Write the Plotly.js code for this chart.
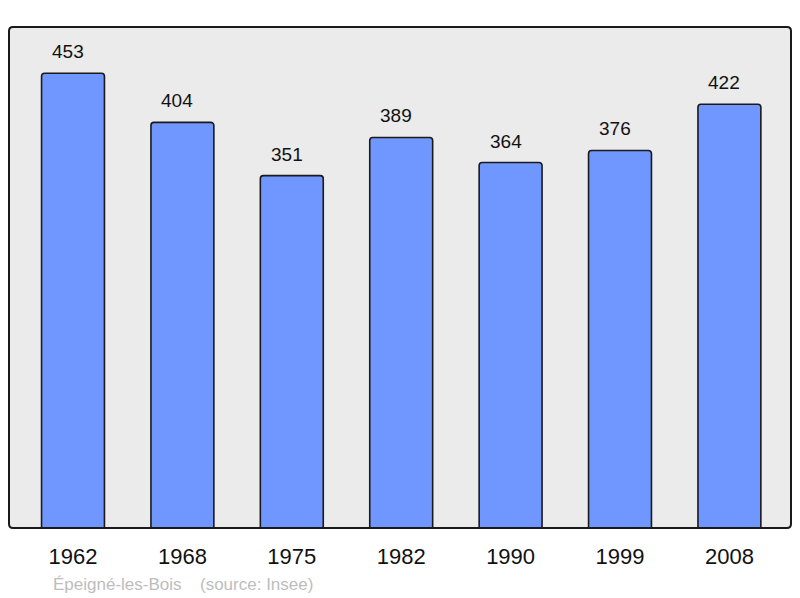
<!DOCTYPE html>
<html><head><meta charset="utf-8">
<script src="https://cdn.plot.ly/plotly-3.0.1.min.js"></script>
<style>html,body{margin:0;padding:0;background:#fff}#chart{width:800px;height:598px}</style>
</head><body><div id="chart"></div>
<script>
var years = ['1962','1968','1975','1982','1990','1999','2008'];
var population = [453, 404, 351, 389, 364, 376, 422];
var commune = 'Épeigné-les-Bois';
var source = '(source: Insee)';

var positions = years.map(function(_, i){ return i; });
var FONT = 'Liberation Sans, Arial, sans-serif';

var trace = {
  type: 'bar',
  x: positions,
  y: population,
  width: 0.575,
  marker: {color: '#7096ff', line: {color: '#1a1a1a', width: 1.6}, cornerradius: 3},
  hoverinfo: 'none'
};

var annotations = population.map(function(v, i){
  return {x: positions[i], y: v, xref: 'x', yref: 'y', text: String(v), showarrow: false,
    yanchor: 'bottom', yshift: 9, xshift: -5, font: {family: FONT, size: 19, color: '#111'}};
});
annotations.push({xref: 'paper', yref: 'paper', x: 0.0535, y: -0.112, xanchor: 'left', yanchor: 'middle',
  text: commune, showarrow: false, font: {family: FONT, size: 17, color: '#bdbdbd'}});
annotations.push({xref: 'paper', yref: 'paper', x: 0.2415, y: -0.112, xanchor: 'left', yanchor: 'middle',
  text: source, showarrow: false, font: {family: FONT, size: 17, color: '#bdbdbd'}});

// rounded frame in paper coordinates
var rx = 4/782, ry = 4/501;
var framePath = 'M ' + rx + ',0 L ' + (1-rx) + ',0 Q 1,0 1,' + ry +
  ' L 1,' + (1-ry) + ' Q 1,1 ' + (1-rx) + ',1 L ' + rx + ',1 Q 0,1 0,' + (1-ry) +
  ' L 0,' + ry + ' Q 0,0 ' + rx + ',0 Z';

var layout = {
  width: 800, height: 598,
  margin: {l: 9, r: 9, t: 27, b: 70, pad: 0},
  paper_bgcolor: '#ffffff',
  plot_bgcolor: '#ebebeb',
  showlegend: false,
  xaxis: {range: [-0.585, 6.563], tickvals: positions, ticktext: years, showgrid: false, zeroline: false,
    ticks: '', ticklabelstandoff: 13, tickfont: {family: FONT, size: 22, color: '#111'}, fixedrange: true},
  yaxis: {range: [0, 499], showgrid: false, zeroline: false, showticklabels: false, ticks: '', fixedrange: true},
  shapes: [{type: 'path', xref: 'paper', yref: 'paper', path: framePath,
    line: {color: '#1a1a1a', width: 2}, fillcolor: 'rgba(0,0,0,0)', layer: 'above'}],
  annotations: annotations
};

Plotly.newPlot('chart', [trace], layout, {displayModeBar: false, staticPlot: true});
</script></body></html>
